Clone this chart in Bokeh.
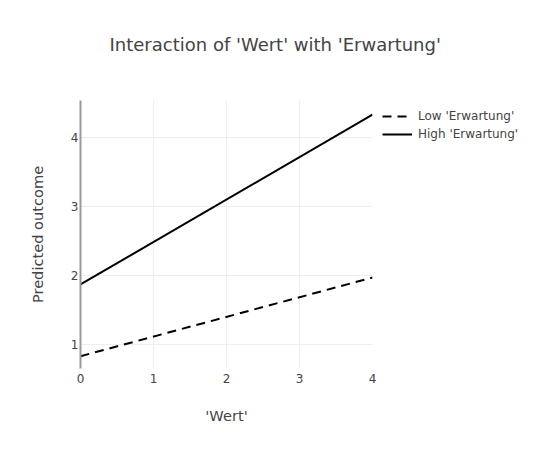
from bokeh.plotting import figure
from bokeh.models import Range1d, Legend, LegendItem, Title, FixedTicker
from bokeh.embed import file_html
from bokeh.resources import INLINE

wert = [0, 4]
low_erwartung = [0.83, 1.97]
high_erwartung = [1.87, 4.33]
x_ticks = [0, 1, 2, 3, 4]
y_ticks = [1, 2, 3, 4]

FONT = "DejaVu Sans"

p = figure(frame_width=292, frame_height=268, output_backend="svg", toolbar_location=None,
           x_range=Range1d(0, 4), y_range=Range1d(0.652, 4.536),
           min_border_left=80, min_border_right=10, min_border_top=100, min_border_bottom=66)
p.title_location = None
p.outline_line_color = None
p.background_fill_color = "white"
p.border_fill_color = "white"

r_low = p.line(wert, low_erwartung, line_color="black", line_width=2, line_dash="9 6")
r_high = p.line(wert, high_erwartung, line_color="black", line_width=2)

p.xaxis.ticker = FixedTicker(ticks=x_ticks)
p.yaxis.ticker = FixedTicker(ticks=y_ticks)
for ax in (p.xaxis[0], p.yaxis[0]):
    ax.major_tick_line_color = None
    ax.minor_tick_line_color = None
    ax.major_tick_out = 0
    ax.major_tick_in = 0
    ax.minor_tick_out = 0
    ax.major_label_text_font = FONT
    ax.major_label_text_font_size = "12px"
    ax.major_label_text_color = "#444444"
    ax.axis_label_text_font = FONT
    ax.axis_label_text_font_size = "14.6px"
    ax.axis_label_text_font_style = "normal"
    ax.axis_label_text_color = "#444444"
p.xaxis.axis_line_color = None
p.yaxis.axis_line_color = "#999999"
p.yaxis.axis_line_width = 2
p.xaxis.axis_label = "'Wert'"
p.yaxis.axis_label = "Predicted outcome"
p.xaxis.major_label_standoff = 5
p.yaxis.major_label_standoff = 2
p.xaxis.axis_label_standoff = 21
p.yaxis.axis_label_standoff = 22

p.xgrid.grid_line_color = "#eeeeee"
p.ygrid.grid_line_color = "#eeeeee"

# spacer nearest the frame, then the visible title further up
p.add_layout(Title(text=" ", text_font_size="1px", standoff=43), "above")
p.add_layout(Title(text="Interaction of 'Wert' with 'Erwartung'", text_font=FONT,
                   text_font_size="18px", text_font_style="normal", text_color="#444444",
                   align="left", offset=29, standoff=0), "above")

legend = Legend(items=[LegendItem(label="Low 'Erwartung'", renderers=[r_low]),
                       LegendItem(label="High 'Erwartung'", renderers=[r_high])],
                location=(10, 225), label_text_font=FONT, label_text_font_size="12px",
                label_text_color="#444444", glyph_width=30, glyph_height=18,
                spacing=0, padding=4, margin=0, border_line_color=None,
                background_fill_alpha=0, label_standoff=6, label_height=18)
p.add_layout(legend, "right")

open("out.html", "w").write(file_html(p, INLINE))
